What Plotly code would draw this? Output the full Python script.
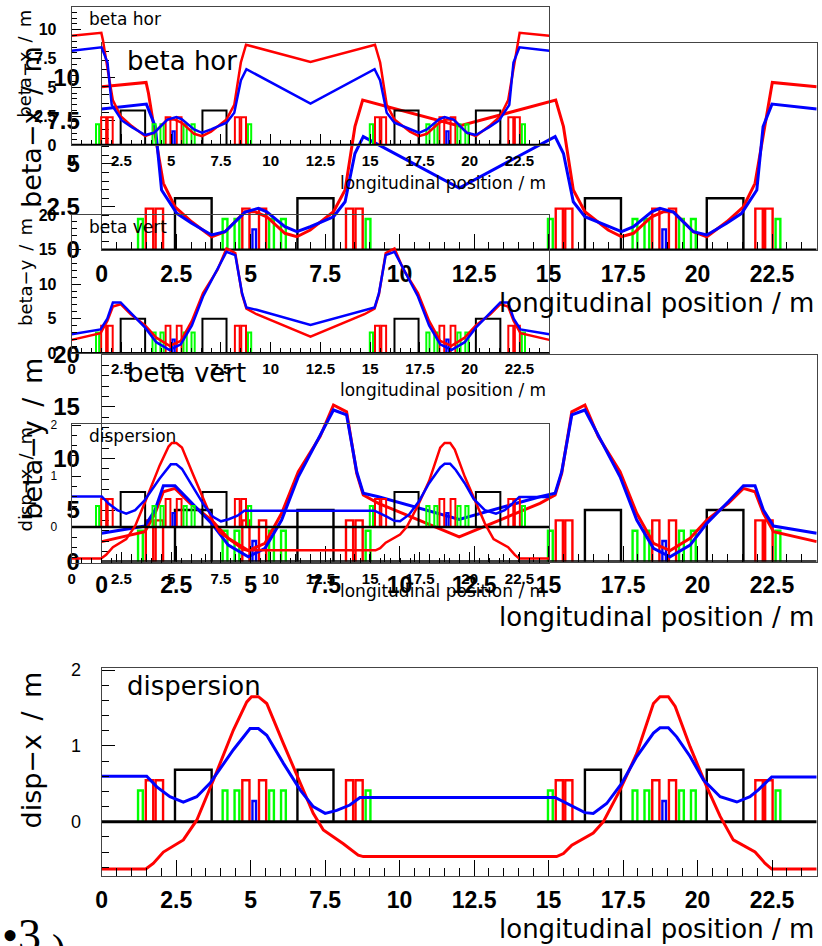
import plotly.graph_objects as go

W, H = 822, 946
S_RANGE = (0.0, 24.0)

# ---- lattice elements, (start, end) in m ----
dipoles = [(2.46, 3.69), (6.57, 7.78), (16.22, 17.43), (20.31, 21.54)]
quadrupoles = [(1.48, 1.73), (1.81, 2.06), (4.72, 4.96), (5.28, 5.52),
               (8.20, 8.44), (8.52, 8.76), (15.24, 15.48), (15.56, 15.80),
               (18.48, 18.72), (19.04, 19.28), (21.94, 22.19), (22.27, 22.52)]
sextupoles = [(1.22, 1.38), (4.06, 4.22), (4.46, 4.62), (5.62, 5.78),
              (6.02, 6.18), (8.86, 9.02), (14.98, 15.14), (17.82, 17.98),
              (18.22, 18.38), (19.38, 19.54), (19.78, 19.94), (22.62, 22.78)]
monitors = [(5.06, 5.18), (18.82, 18.94)]

# ---- horizontal beta function ----
s_bx_red = [0, 1.49, 1.57, 1.68, 1.85, 2.07, 2.46, 3.02, 3.69, 4.14, 4.81, 5.15,
            5.54, 6.15, 6.55, 7.0, 7.78, 8.17, 8.5, 8.76, 12.0, 15.24, 15.5, 15.83,
            16.22, 17.0, 17.45, 17.85, 18.46, 18.85, 19.19, 19.86, 20.31, 20.98,
            21.54, 21.93, 22.15, 22.32, 22.43, 22.51, 24.0]
bx_red = [9.48, 9.73, 9.1, 7.83, 6.1, 3.87, 2.51, 1.64, 0.77, 1.06, 2.22, 2.22,
          1.93, 0.97, 0.77, 1.16, 2.22, 3.48, 7.16, 8.7, 7.2, 8.7, 7.16, 3.48,
          2.22, 1.16, 0.77, 0.97, 1.93, 2.22, 2.22, 1.06, 0.77, 1.64,
          2.51, 3.87, 6.1, 7.83, 9.1, 9.73, 9.48]
s_bx_blue = [0, 1.5, 1.8, 2.01, 2.52, 3.02, 3.69, 4.14, 4.81, 5.26, 5.54, 6.15,
             6.55, 7.0, 7.78, 8.17, 8.5, 8.78, 12.0, 15.22, 15.5, 15.83, 16.22,
             17.0, 17.45, 17.85, 18.46, 18.74, 19.19, 19.86, 20.31, 20.98, 21.48,
             21.99, 22.2, 22.5, 24.0]
bx_blue = [8.18, 8.47, 7.16, 3.48, 2.13, 1.55, 0.87, 1.06, 2.2, 2.42, 2.22, 1.35,
           1.06, 1.35, 1.93, 2.8, 5.6, 6.58, 3.6, 6.58, 5.6, 2.8, 1.93,
           1.35, 1.06, 1.35, 2.22, 2.42, 2.2, 1.06, 0.87, 1.55, 2.13,
           3.48, 7.16, 8.47, 8.18]

# ---- vertical beta function ----
s_by_red = [0, 1.45, 1.79, 2.07, 2.46, 2.97, 3.69, 4.25, 4.92, 5.48, 6.04, 6.6,
            7.33, 7.78, 8.22, 8.56, 8.78, 9.29, 12.0, 14.71, 15.22, 15.44, 15.78,
            16.22, 16.67, 17.4, 17.96, 18.52, 19.08, 19.75, 20.31, 21.03, 21.54,
            21.93, 22.21, 22.55, 24.0]
by_red = [1.94, 2.9, 4.68, 6.77, 7.1, 5.65, 4.03, 2.26, 1.07, 1.78, 4.68, 8.7,
          12.1, 15.16, 14.5, 8.55, 6.45, 5.65, 2.4, 5.65, 6.45, 8.55, 14.5,
          15.16, 12.1, 8.7, 4.68, 1.78, 1.07, 2.26, 4.03, 5.65, 7.1,
          6.77, 4.68, 2.9, 1.94]
s_by_blue = [0, 1.45, 1.79, 2.07, 2.46, 2.97, 3.69, 4.25, 4.92, 5.48, 6.04, 6.6,
             7.78, 8.22, 8.56, 8.78, 9.29, 12.0, 14.71, 15.22, 15.44, 15.78, 16.22,
             17.4, 17.96, 18.52, 19.08, 19.75, 20.31, 21.03, 21.54, 21.93, 22.21,
             22.55, 24.0]
by_blue = [2.75, 3.45, 5.0, 7.35, 7.35, 5.8, 3.71, 1.61, 0.48, 1.29, 4.03, 8.22,
           14.68, 14.2, 8.7, 6.62, 6.29, 4.1, 6.29, 6.62, 8.7, 14.2, 14.68,
           8.22, 4.03, 1.29, 0.48, 1.61, 3.71, 5.8, 7.35, 7.35, 5.0,
           3.45, 2.75]

# ---- horizontal dispersion ----
s_dx_red = [0, 1.48, 1.73, 2.07, 2.74, 3.19, 3.75, 4.42, 4.87, 5.03, 5.26, 5.54,
            6.1, 6.66, 7.1, 7.44, 8.11, 8.61, 8.78, 15.27, 15.5, 15.78, 16.5,
            16.84, 17.4, 17.96, 18.52, 18.74, 19.02, 19.25, 19.75, 20.31, 20.76,
            21.2, 21.93, 22.27, 22.49, 24.0]
dx_red = [-0.624, -0.624, -0.55, -0.40, -0.24, 0.02, 0.55, 1.21, 1.58, 1.65, 1.65, 1.56,
          1.03, 0.51, 0.11, -0.11, -0.29, -0.44, -0.46, -0.46, -0.42, -0.31, -0.15,
          0.0, 0.42, 0.9, 1.56, 1.65, 1.65, 1.52, 0.99, 0.46, 0.07,
          -0.24, -0.40, -0.55, -0.624, -0.624]
s_dx_blue = [0, 1.51, 1.85, 2.29, 2.74, 3.19, 3.64, 4.42, 4.98, 5.26, 5.54, 6.1,
             6.66, 7.1, 7.5, 7.89, 8.33, 8.67, 15.22, 15.83, 16.22, 16.5, 16.95,
             17.46, 17.96, 18.52, 18.74, 19.02, 19.3, 19.75, 20.2, 20.76, 21.32,
             21.76, 22.04, 22.49, 24.0]
dx_blue = [0.60, 0.60, 0.46, 0.33, 0.26, 0.33, 0.51, 0.95, 1.23, 1.23, 1.14, 0.77,
           0.42, 0.20, 0.11, 0.15, 0.22, 0.32, 0.32, 0.20, 0.12, 0.11, 0.24,
           0.51, 0.86, 1.17, 1.24, 1.24, 1.12, 0.86, 0.55, 0.33, 0.26,
           0.33, 0.42, 0.59, 0.59]

x_title = "longitudinal position / m"
SP = "\u2002"  # wider gap around the slash in the axis titles

RED, BLUE, GREEN, BLACK = "#ff0000", "#0000ff", "#00ff00", "#000000"
TITLE_FONT = "DejaVu Sans, Verdana, sans-serif"
TICK_FONT = "Liberation Sans Narrow, Liberation Sans, Arial, sans-serif"

# element heights as fractions of the vertical axis span
ELEMENT_STYLE = [
    (dipoles, BLACK, 0.25),
    (quadrupoles, RED, 0.20),
    (sextupoles, GREEN, 0.15),
    (monitors, BLUE, 0.10),
]

# frames in pixels: left, right, top, bottom
BIG = (101.7, 816.7)
SMALL = (71.7, 549.3)
panels = [
    dict(frame=BIG + (43.3, 250.0), yr=(0, 12), dt=2.5, mdt=0.5,
         s=(s_bx_red, s_bx_blue), v=(bx_red, bx_blue), label="beta hor",
         ytitle=f"beta\u2212x{SP}/{SP}m", big=True, xt_dy=52.5, ylab=(24, "bold")),
    dict(frame=BIG + (355.0, 561.7), yr=(0, 20), dt=5, mdt=1,
         s=(s_by_red, s_by_blue), v=(by_red, by_blue), label="beta vert",
         ytitle=f"beta\u2212y{SP}/{SP}m", big=True, xt_dy=55, ylab=(24, "bold")),
    dict(frame=BIG + (668.3, 876.0), yr=(-0.716, 2.024), dt=1, mdt=0.2,
         s=(s_dx_red, s_dx_blue), v=(dx_red, dx_blue), label="dispersion",
         ytitle=f"disp\u2212x{SP}/{SP}m", big=True, xt_dy=53, ylab=(18, "normal")),
    dict(frame=SMALL + (6.7, 145.0), yr=(0, 12), dt=2.5, mdt=0.5,
         s=(s_bx_red, s_bx_blue), v=(bx_red, bx_blue), label="beta hor",
         ytitle=f"beta\u2212x{SP}/{SP}m", big=False, xt_dy=37.5, ylab=(16, "bold")),
    dict(frame=SMALL + (215.0, 353.3), yr=(0, 20), dt=5, mdt=1,
         s=(s_by_red, s_by_blue), v=(by_red, by_blue), label="beta vert",
         ytitle=f"beta\u2212y{SP}/{SP}m", big=False, xt_dy=37, ylab=(16, "bold")),
    dict(frame=SMALL + (424.0, 563.3), yr=(-0.716, 2.024), dt=1, mdt=0.2,
         s=(s_dx_red, s_dx_blue), v=(dx_red, dx_blue), label="dispersion",
         ytitle=f"disp\u2212x{SP}/{SP}m", big=False, xt_dy=28, ylab=(12, "normal")),
]


def px(x):
    return x / W


def py(y):
    return 1 - y / H


def outline(intervals, h):
    xs, ys = [], []
    for a, b in intervals:
        xs += [a, a, b, b, None]
        ys += [0, h, h, 0, None]
    return xs, ys


fig = go.Figure()
annotations = []
layout = {}

for i, p in enumerate(panels, start=1):
    left, right, top, bottom = p["frame"]
    big = p["big"]
    k = 1.0 if big else 0.667
    xa, ya = f"x{i}", f"y{i}"
    span = p["yr"][1] - p["yr"][0]

    # lattice elements
    for elems, col, frac in ELEMENT_STYLE:
        xs, ys = outline(elems, frac * span)
        fig.add_trace(go.Scatter(x=xs, y=ys, mode="lines", xaxis=xa, yaxis=ya,
                                 line=dict(color=col, width=2.4 if big else 2.0),
                                 hoverinfo="skip", showlegend=False))
    # element baseline
    fig.add_trace(go.Scatter(x=list(S_RANGE), y=[0, 0], mode="lines", xaxis=xa, yaxis=ya,
                             line=dict(color=BLACK, width=3 if big else 2.5),
                             hoverinfo="skip", showlegend=False))
    # optics curves
    for s, v, col in zip(p["s"], p["v"], (RED, BLUE)):
        fig.add_trace(go.Scatter(x=s, y=v, mode="lines", xaxis=xa, yaxis=ya,
                                 line=dict(color=col, width=3 if big else 2.5),
                                 showlegend=False))

    common = dict(showline=True, linecolor="#444444", linewidth=1, mirror=True,
                  showgrid=False, zeroline=False, ticks="inside", automargin=False,
                  tickcolor=BLACK, tickwidth=1)
    layout[f"xaxis{i}"] = dict(
        domain=[px(left), px(right)], range=list(S_RANGE), anchor=ya,
        tick0=0, dtick=2.5, ticklen=round(16 * k), ticklabelstandoff=round(3 * k),
        tickfont=dict(family=TICK_FONT, size=round(23 * k), color=BLACK, weight="bold"),
        minor=dict(dtick=0.5, tick0=0, ticks="inside", ticklen=round(8 * k),
                   tickcolor=BLACK, tickwidth=1),
        **common)
    ysize, yweight = p["ylab"]
    layout[f"yaxis{i}"] = dict(
        domain=[py(bottom), py(top)], range=list(p["yr"]), anchor=xa,
        tick0=0, dtick=p["dt"], ticklen=round(13 * k), ticklabelstandoff=round(16 * k),
        tickfont=dict(family=TICK_FONT, size=ysize, color=BLACK, weight=yweight),
        minor=dict(dtick=p["mdt"], tick0=0, ticks="inside", ticklen=round(7 * k),
                   tickcolor=BLACK, tickwidth=1),
        **common)

    tsize = round(26 * k)
    # plot label in the upper-left corner of the frame
    annotations.append(dict(text=p["label"], x=px(left + 23.3 * k), y=py(top + 18 * k),
                            xref="paper", yref="paper", xanchor="left", yanchor="middle",
                            showarrow=False, font=dict(family=TITLE_FONT, size=tsize, color=BLACK)))
    # x-axis title, right-aligned at the end of the axis
    annotations.append(dict(text=x_title, x=px(right - 1), y=py(bottom + p["xt_dy"]),
                            xref="paper", yref="paper", xanchor="right", yanchor="middle",
                            showarrow=False, font=dict(family=TITLE_FONT, size=tsize, color=BLACK)))
    # y-axis title, rotated, aligned with the top of the axis
    annotations.append(dict(text=p["ytitle"], x=px(left - 70 * k), y=py(top + 1),
                            xref="paper", yref="paper", xanchor="center", yanchor="top",
                            textangle=-90, showarrow=False,
                            font=dict(family=TITLE_FONT, size=round(27 * k), color=BLACK)))

# large glyphs running off the lower-left corner
annotations.append(dict(text="\u20223", x=0, y=py(908), xref="paper", yref="paper",
                        xanchor="left", yanchor="top", showarrow=False,
                        font=dict(family="Liberation Serif, DejaVu Serif, serif",
                                  size=46, color=BLACK)))
annotations.append(dict(text=")", x=px(50), y=py(924), xref="paper", yref="paper",
                        xanchor="left", yanchor="top", showarrow=False,
                        font=dict(family="Liberation Serif, DejaVu Serif, serif",
                                  size=40, color=BLACK)))

fig.update_layout(width=W, height=H, margin=dict(l=0, r=0, t=0, b=0, pad=0, autoexpand=False),
                  paper_bgcolor="white", plot_bgcolor="rgba(0,0,0,0)",
                  showlegend=False, annotations=annotations, **layout)

fig.write_html("out.html")
